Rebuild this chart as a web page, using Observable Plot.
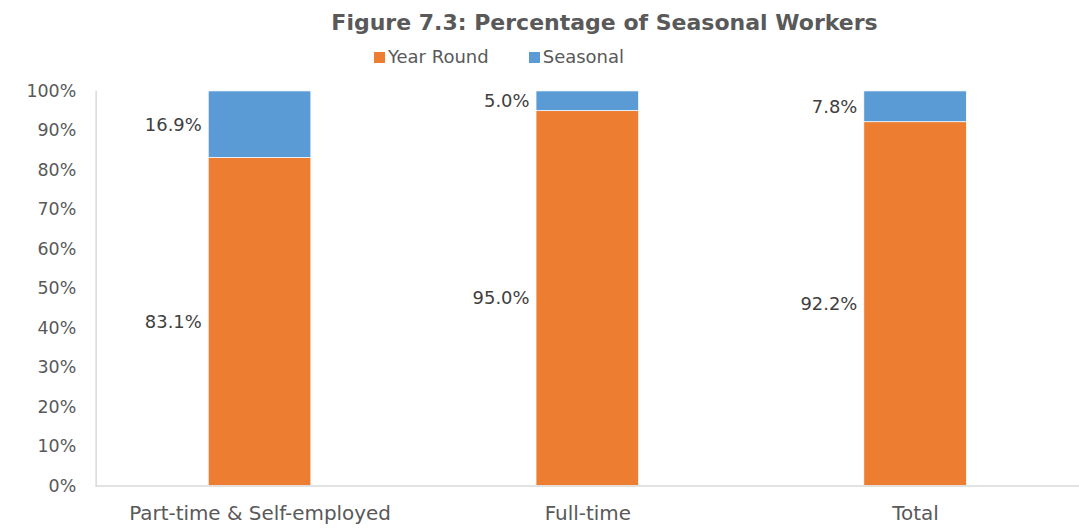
<!DOCTYPE html>
<html><head><meta charset="utf-8">
<script src="https://cdn.jsdelivr.net/npm/d3@7"></script>
<script src="https://cdn.jsdelivr.net/npm/@observablehq/plot@0.6"></script>
<style>
html,body{margin:0;padding:0;background:#fff;overflow:hidden;width:1079px;height:529px;}
#wrap{position:relative;width:1079px;height:529px;font-family:"DejaVu Sans",sans-serif;color:#595959;}
#title{position:absolute;left:0;top:7px;width:1209px;text-align:center;font-size:22px;font-weight:bold;line-height:32px;}
#legend{position:absolute;left:0;top:44px;width:998px;display:flex;justify-content:center;gap:40px;font-size:18px;line-height:26px;}
#legend span.sw{display:inline-block;width:11px;height:11px;margin-right:3px;vertical-align:0px;}
#chart{position:absolute;left:0;top:70px;}
</style></head>
<body><div id="wrap">
<div id="title">Figure 7.3: Percentage of Seasonal Workers</div>
<div id="legend"></div>
<div id="chart"></div>
</div>
<script>
const categories = ["Part-time & Self-employed", "Full-time", "Total"];
const seriesNames = ["Year Round", "Seasonal"];
const yearRound = [83.1, 95.0, 92.2];
const seasonal = [16.9, 5.0, 7.8];
const yTicks = [0, 10, 20, 30, 40, 50, 60, 70, 80, 90, 100];
const colors = ["#ED7D31", "#5B9BD5"];

const rows = [];
categories.forEach((c, i) => rows.push({category: c, series: seriesNames[0], value: yearRound[i]}));
categories.forEach((c, i) => rows.push({category: c, series: seriesNames[1], value: seasonal[i]}));

const legend = document.getElementById("legend");
seriesNames.forEach((s, i) => {
  const d = document.createElement("div");
  d.innerHTML = `<span class="sw" style="background:${colors[i]}"></span>${s}`;
  legend.appendChild(d);
});

const W = 1083, H = 459;
const mL = 96, mR = 0;
const step = (W - mL - mR) / categories.length;
const pad = 0.687;
const bw = step * (1 - pad);

const chart = Plot.plot({
  width: W, height: H,
  marginLeft: mL, marginRight: mR, marginTop: 21, marginBottom: 42,
  style: {fontFamily: "'DejaVu Sans', sans-serif", fontSize: "18px", color: "#595959", background: "white"},
  x: {domain: categories, paddingInner: pad, paddingOuter: pad / 2, label: null},
  y: {domain: [0, 100], label: null},
  color: {domain: seriesNames, range: colors},
  marks: [
    Plot.axisY({ticks: yTicks, tickFormat: d => d + "%", tickSize: 0, tickPadding: 20, fontSize: 17.5, fill: "#595959", label: null}),
    Plot.axisX({tickSize: 0, tickPadding: 20, fontSize: 20, fill: "#595959", label: null}),
    Plot.barY(rows, Plot.stackY({x: "category", y: "value", fill: "series", stroke: "white", strokeWidth: 0.75})),
    Plot.ruleY([0], {stroke: "#d9d9d9", strokeWidth: 1.5}),
    Plot.frame({anchor: "left", stroke: "#d9d9d9", strokeWidth: 1.5}),
    Plot.text(rows, Plot.stackY({x: "category", y: "value", text: d => d.value.toFixed(1) + "%", textAnchor: "end", dx: -(bw / 2 + 7), fill: "#404040", fontSize: 18}))
  ]
});
document.getElementById("chart").appendChild(chart);
</script>
</body></html>
